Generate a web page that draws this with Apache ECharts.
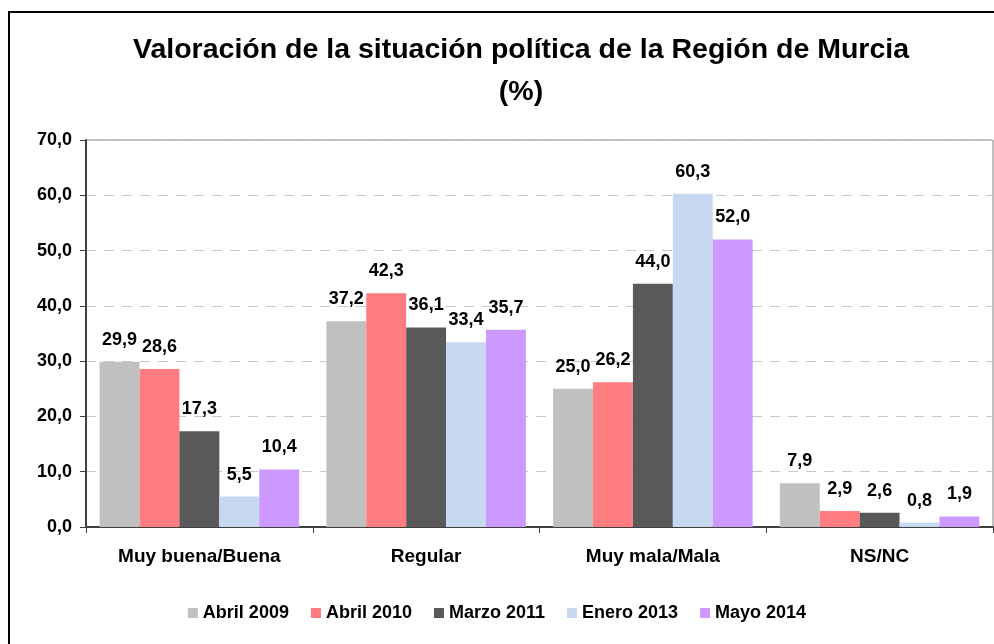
<!DOCTYPE html>
<html>
<head>
<meta charset="utf-8">
<script src="https://cdn.jsdelivr.net/npm/echarts@6/dist/echarts.min.js"></script>
<style>
  html, body { margin: 0; padding: 0; background: #fff; }
  #chart { width: 994px; height: 644px; }
</style>
</head>
<body>
<div id="chart"></div>
<script>
var categories = ['Muy buena/Buena', 'Regular', 'Muy mala/Mala', 'NS/NC'];
var seriesNames = ['Abril 2009', 'Abril 2010', 'Marzo 2011', 'Enero 2013', 'Mayo 2014'];
var abril2009 = [29.9, 37.2, 25.0, 7.9];
var abril2010 = [28.6, 42.3, 26.2, 2.9];
var marzo2011 = [17.3, 36.1, 44.0, 2.6];
var enero2013 = [5.5, 33.4, 60.3, 0.8];
var mayo2014 = [10.4, 35.7, 52.0, 1.9];
var colors = ['#C0C0C0', '#FF7C80', '#595959', '#C6D9F1', '#CC99FF'];

var allData = [abril2009, abril2010, marzo2011, enero2013, mayo2014];
var font = 'Liberation Sans, Arial, sans-serif';

function fmt(v) {
  return v.toFixed(1).replace('.', ',');
}

var chart = echarts.init(document.getElementById('chart'));

var series = seriesNames.map(function (name, i) {
  return {
    name: name,
    type: 'bar',
    data: allData[i],
    barGap: '0%',
    barCategoryGap: '12%',
    itemStyle: { color: colors[i] },
    label: {
      show: true,
      position: 'top',
      distance: 13,
      fontFamily: font,
      fontWeight: 'bold',
      fontSize: 18,
      color: '#000',
      formatter: function (p) { return fmt(p.value); }
    }
  };
});

var option = {
  animation: false,
  graphic: [{
    type: 'rect',
    shape: { x: 9, y: 12, width: 1000, height: 660 },
    style: { fill: 'none', stroke: '#000', lineWidth: 2 },
    z: 100
  }],
  title: {
    text: 'Valoración de la situación política de la Región de Murcia\n(%)',
    left: 516,
    textAlign: 'center',
    top: 24,
    textStyle: {
      fontFamily: font,
      fontWeight: 'bold',
      fontSize: 28.5,
      lineHeight: 42,
      color: '#000'
    }
  },
  legend: {
    data: seriesNames,
    bottom: 17,
    left: 'center',
    itemWidth: 10,
    itemHeight: 10,
    itemGap: 22,
    icon: 'rect',
    textStyle: {
      fontFamily: font,
      fontWeight: 'bold',
      fontSize: 18,
      color: '#000'
    }
  },
  grid: {
    left: 86,
    right: 1,
    top: 140,
    bottom: 117,
    show: true,
    borderColor: '#808080',
    borderWidth: 1
  },
  xAxis: {
    type: 'category',
    data: categories,
    axisLine: { lineStyle: { color: '#404040', width: 2 } },
    axisTick: { show: true, length: 6, lineStyle: { color: '#404040', width: 1 } },
    axisLabel: {
      margin: 20,
      fontFamily: font,
      fontWeight: 'bold',
      fontSize: 19,
      color: '#000'
    }
  },
  yAxis: {
    type: 'value',
    min: 0,
    max: 70,
    interval: 10,
    axisLine: { show: true, lineStyle: { color: '#404040', width: 2 } },
    axisTick: { show: true, length: 6, lineStyle: { color: '#404040' } },
    axisLabel: {
      margin: 14,
      fontFamily: font,
      fontWeight: 'bold',
      fontSize: 18,
      color: '#000',
      formatter: function (v) { return fmt(v); }
    },
    splitLine: { lineStyle: { color: '#C8C8C8', type: [10, 8] } }
  },
  series: series
};

option && chart.setOption(option);
</script>
</body>
</html>
